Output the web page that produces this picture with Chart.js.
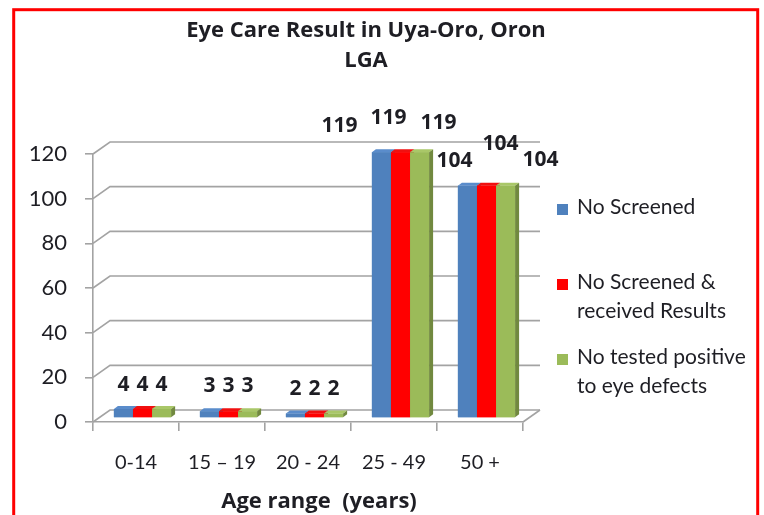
<!DOCTYPE html>
<html>
<head>
<meta charset="utf-8">
<title>Eye Care Result in Uya-Oro, Oron LGA</title>
<script src="https://cdn.jsdelivr.net/npm/chart.js@4.4.1/dist/chart.umd.min.js"></script>
<style>
    html, body { margin: 0; padding: 0; background: #ffffff; }
    canvas { display: block; }
</style>
</head>
<body>
<canvas id="eyeCareChart" width="764" height="515"></canvas>
<script>

/*
============================================================
Data
============================================================
*/

const ageRanges = ["0-14", "15 – 19", "20 - 24", "25 - 49", "50 +"];

const screened = [4, 3, 2, 119, 104];

const screenedWithResults = [4, 3, 2, 119, 104];

const testedPositive = [4, 3, 2, 119, 104];

const seriesNames = [
    ["No Screened"],
    ["No Screened &", "received Results"],
    ["No tested positive", "to eye defects"]
];

const titleLines = ["Eye Care Result in Uya-Oro, Oron", "LGA"];

const axisTitle = "Age range  (years)";

const valueMin = 0;
const valueMax = 120;
const valueStep = 20;

/*
============================================================
Styles
============================================================
*/

const FONT = "Lato, 'Open Sans', sans-serif";
const BOLD_FONT = "'Open Sans', Lato, sans-serif";
const TEXT = "#1e1e24";
const GRID = "#a3a3a3";

const faceColors = ["#4f81bd", "#ff0000", "#9bbb59"];
const topColors  = ["#5a8ccb", "#f01010", "#a9c768"];
const sideColors = ["#3a6497", "#c00000", "#71893f"];

// depth of the back wall, offset of the bar row, depth of one bar
const wallDepth = { x: 17, y: -12 };
const barShift  = { x: 6.5, y: -4 };
const barDepth  = { x: 4, y: -3 };

// value label nudges per category / series, as Excel spread them out
const labelShiftX = [
    [0, 0, 0], [0, 0, 0], [0, 0, 0], [-42, -12, 19], [-13, 14, 35]
];
const labelRise = [
    [24, 24, 24], [25, 25, 25], [25, 25, 25], [26, 34, 29], [25, 42, 26]
];

// legend rows: first line centre y for each entry
const legendRows = [207, 282, 357];
const legendLineHeight = 29;

/*
============================================================
3D frame, bar faces, labels and legend
============================================================
*/

const boxPlugin = {

    id: "box3d",

    beforeDraw(chart) {

        const ctx = chart.ctx;

        ctx.save();
        ctx.fillStyle = "#ffffff";
        ctx.fillRect(0, 0, chart.width, chart.height);

        // red frame, bottom edge runs off the canvas
        ctx.strokeStyle = "#ff0000";
        ctx.lineWidth = 3;
        ctx.strokeRect(13.7, 9.7, 744, 560);
        ctx.restore();

    },

    beforeDatasetsDraw(chart) {

        const ctx = chart.ctx;
        const area = chart.chartArea;
        const y = chart.scales.y;

        ctx.save();
        ctx.strokeStyle = GRID;
        ctx.lineWidth = 1.6;

        y.ticks.forEach(tick => {

            const py = y.getPixelForValue(tick.value);

            ctx.beginPath();
            ctx.moveTo(area.left, py);
            ctx.lineTo(area.left + wallDepth.x, py + wallDepth.y);
            ctx.lineTo(area.right + wallDepth.x, py + wallDepth.y);
            ctx.stroke();

        });

        // right edge of the floor
        ctx.beginPath();
        ctx.moveTo(area.right, area.bottom);
        ctx.lineTo(area.right + wallDepth.x, area.bottom + wallDepth.y);
        ctx.stroke();

        ctx.restore();

        // bars stand in the middle of the floor
        ctx.save();
        ctx.translate(barShift.x, barShift.y);

    },

    afterDatasetsDraw(chart) {

        const ctx = chart.ctx;
        const metas = chart.data.datasets.map((d, i) => chart.getDatasetMeta(i));

        ageRanges.forEach((label, index) => {

            metas.forEach((meta, series) => {

                const bar = meta.data[index].getProps(["x", "y", "base", "width"], true);
                const left = bar.x - bar.width / 2;
                const right = bar.x + bar.width / 2;

                ctx.fillStyle = faceColors[series];
                ctx.fillRect(left, bar.y, bar.width, bar.base - bar.y);

                ctx.fillStyle = topColors[series];
                ctx.beginPath();
                ctx.moveTo(left, bar.y);
                ctx.lineTo(right, bar.y);
                ctx.lineTo(right + barDepth.x, bar.y + barDepth.y);
                ctx.lineTo(left + barDepth.x, bar.y + barDepth.y);
                ctx.closePath();
                ctx.fill();

                ctx.fillStyle = sideColors[series];
                ctx.beginPath();
                ctx.moveTo(right, bar.y);
                ctx.lineTo(right + barDepth.x, bar.y + barDepth.y);
                ctx.lineTo(right + barDepth.x, bar.base + barDepth.y);
                ctx.lineTo(right, bar.base);
                ctx.closePath();
                ctx.fill();

            });

        });

        // value labels above each bar
        ctx.font = "bold 21px " + BOLD_FONT;
        ctx.fillStyle = TEXT;
        ctx.textAlign = "center";
        ctx.textBaseline = "middle";

        metas.forEach((meta, series) => {

            const values = chart.data.datasets[series].data;

            meta.data.forEach((el, index) => {

                const bar = el.getProps(["x", "y"], true);

                ctx.fillText(
                    String(values[index]),
                    bar.x + labelShiftX[index][series],
                    bar.y - labelRise[index][series]
                );

            });

        });

        ctx.restore();

    },

    afterDraw(chart) {

        const ctx = chart.ctx;

        ctx.save();
        ctx.fillStyle = TEXT;
        ctx.textBaseline = "middle";

        // chart title
        ctx.textAlign = "center";
        ctx.font = "bold 22px " + BOLD_FONT;
        ctx.fillText(titleLines[0], 366, 31);
        ctx.fillText(titleLines[1], 366, 61);

        // category axis title
        ctx.fillText(axisTitle, 319, 502);

        // legend
        ctx.textAlign = "left";
        ctx.font = "21px " + FONT;

        seriesNames.forEach((lines, i) => {

            const top = legendRows[i];

            ctx.fillStyle = faceColors[i];
            ctx.fillRect(557, top - 3, 11, 11);

            ctx.fillStyle = TEXT;
            lines.forEach((line, k) => {
                ctx.fillText(line, 577, top + k * legendLineHeight);
            });

        });

        ctx.restore();

    }

};

/*
============================================================
Chart
============================================================
*/

const seriesValues = [screened, screenedWithResults, testedPositive];

new Chart(document.getElementById("eyeCareChart"), {

    type: "bar",

    data: {
        labels: ageRanges,
        datasets: seriesValues.map((values, i) => ({
            label: seriesNames[i].join(" "),
            data: values,
            backgroundColor: faceColors[i],
            borderWidth: 0,
            barPercentage: 1,
            categoryPercentage: 0.665,
            clip: false
        }))
    },

    options: {

        responsive: false,
        devicePixelRatio: 1,
        animation: false,

        layout: {
            padding: { left: 0, top: 154, right: 241, bottom: 0 }
        },

        plugins: {
            legend: { display: false },
            title: { display: false },
            tooltip: { enabled: false }
        },

        scales: {

            x: {
                afterFit(scale) { scale.height = 93; },
                grid: {
                    display: true,
                    drawOnChartArea: false,
                    offset: true,
                    tickLength: 9,
                    color: GRID,
                    lineWidth: 1.6
                },
                border: { display: true, color: GRID, width: 1.6 },
                ticks: {
                    color: TEXT,
                    padding: 20,
                    maxRotation: 0,
                    font: { family: FONT, size: 20 }
                }
            },

            y: {
                min: valueMin,
                max: valueMax,
                afterFit(scale) { scale.width = 93; },
                grid: {
                    display: true,
                    drawOnChartArea: false,
                    tickLength: 8,
                    color: GRID,
                    lineWidth: 1.6
                },
                border: { display: true, color: GRID, width: 1.6 },
                ticks: {
                    stepSize: valueStep,
                    color: TEXT,
                    padding: 18,
                    font: { family: FONT, size: 22 }
                }
            }

        }

    },

    plugins: [boxPlugin]

});

</script>
</body>
</html>
